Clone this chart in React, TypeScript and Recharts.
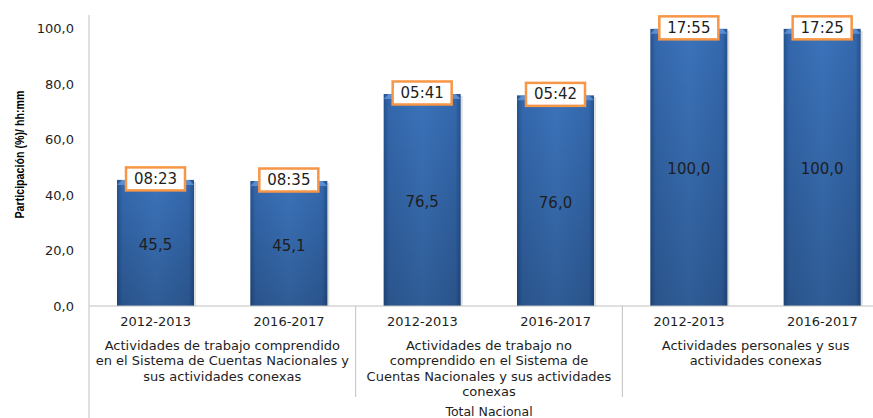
import React from 'react';
import { BarChart, Bar, XAxis, YAxis, LabelList, Label } from 'recharts';

const periods = ['2012-2013', '2016-2017', '2012-2013', '2016-2017', '2012-2013', '2016-2017'];
const groups = ['g1', 'g1', 'g2', 'g2', 'g3', 'g3'];
const groupLines: Record<string, string[]> = {
  g1: ['Actividades de trabajo comprendido', 'en el Sistema de Cuentas Nacionales y', 'sus actividades conexas'],
  g2: ['Actividades de trabajo no', 'comprendido en el Sistema de', 'Cuentas Nacionales y sus actividades', 'conexas'],
  g3: ['Actividades personales y sus', 'actividades conexas'],
};
const values = [45.5, 45.1, 76.5, 76.0, 100.0, 100.0];
const times = ['08:23', '08:35', '05:41', '05:42', '17:55', '17:25'];
const yTicks = [0, 20, 40, 60, 80, 100];
const totalLabel = 'Total Nacional';
const yTitle = 'Participación (%)/ hh:mm';

const data = periods.map((p, i) => ({
  period: p,
  group: groups[i],
  total: totalLabel,
  value: values[i],
  time: times[i],
}));

const FONT = '"DejaVu Sans", Verdana, sans-serif';
const TXT = '#1e1e1e';
const AXIS = '#c0c0c0';
const CHART_W = 892;
const CHART_H = 418;
const Y_W = 89;
const M_R = 3;
const PLOT_W = CHART_W - Y_W - M_R;

const fmt = (v: number) => v.toFixed(1).replace('.', ',');

const PeriodTick = (props: any) => {
  const { x, y, payload } = props;
  return (
    <text x={x} y={y + 15} textAnchor="middle" dominantBaseline="central" fontFamily={FONT} fontSize={13} fill={TXT}>
      {payload.value}
    </text>
  );
};

const GroupTick = (props: any) => {
  const { x, y, payload, index } = props;
  const bw = PLOT_W / 3;
  const lines = groupLines[payload.value] || [];
  return (
    <g>
      {lines.map((l, i) => (
        <text key={i} x={x} y={y + 13 + i * 15.6} textAnchor="middle" dominantBaseline="central" fontFamily={FONT} fontSize={13} fill={TXT}>
          {l}
        </text>
      ))}
      {index < 2 && <line x1={x + bw / 2} x2={x + bw / 2} y1={y - 26} y2={y + 65} stroke={AXIS} strokeWidth={1} />}
      {index === 0 && <line x1={x - bw / 2} x2={x - bw / 2} y1={y - 26} y2={y + 86} stroke={AXIS} strokeWidth={1} />}
    </g>
  );
};

const TotalTick = (props: any) => {
  const { x, y, payload } = props;
  return (
    <text x={x} y={y + 7} textAnchor="middle" dominantBaseline="central" fontFamily={FONT} fontSize={12.5} fill={TXT}>
      {payload.value}
    </text>
  );
};

const YTitle = (props: any) => {
  const vb = props.viewBox || { x: 0, y: 15, width: 89, height: 291 };
  const cx = 19;
  const cy = vb.y + vb.height / 2 - 6;
  return (
    <text
      x={cx}
      y={cy}
      transform={`rotate(-90 ${cx} ${cy})`}
      textAnchor="middle"
      dominantBaseline="central"
      fontFamily='"Liberation Sans Narrow", "Liberation Sans", Arial, sans-serif'
      fontWeight="bold"
      fontSize={13.5}
      textLength={128}
      lengthAdjust="spacingAndGlyphs"
      fill="#000"
    >
      {yTitle}
    </text>
  );
};

const BarShape = (props: any) => {
  const { x, y, width, height } = props;
  if (!height || height <= 0) return null;
  return (
    <g>
      <rect x={x + 2} y={y + 2} width={width} height={height - 2} fill="#7f7f7f" opacity={0.25} />
      <rect x={x} y={y} width={width} height={height} fill="url(#barH)" />
      <rect x={x} y={y} width={width} height={height} fill="url(#barV)" />
      <path d={`M${x},${y + 5} L${x + 5},${y} L${x + width - 5},${y} L${x + width},${y + 5} Z`} fill="#6d9ee0" opacity={0.7} />
    </g>
  );
};

const TimeLabel = (props: any) => {
  const { x, y, width, value } = props;
  const cx = x + width / 2;
  const bw = 59;
  const bh = 23;
  return (
    <g>
      <rect x={cx - bw / 2} y={y - bh / 2 - 1} width={bw} height={bh} fill="#fff" stroke="#f79646" strokeWidth={2.5} />
      <text x={cx} y={y - 1} textAnchor="middle" dominantBaseline="central" fontFamily={FONT} fontSize={15} fill={TXT}>
        {value}
      </text>
    </g>
  );
};

const ValueLabel = (props: any) => {
  const { x, y, width, height, value } = props;
  return (
    <text x={x + width / 2} y={y + height / 2 + 2} textAnchor="middle" dominantBaseline="central" fontFamily={FONT} fontSize={15} fill={TXT}>
      {fmt(value)}
    </text>
  );
};

export default function App() {
  return (
    <div style={{ position: 'absolute', left: 0, top: 0, width: 873, height: 418, overflow: 'hidden', background: '#fff' }}>
      <BarChart width={CHART_W} height={CHART_H} data={data} margin={{ top: 15, right: M_R, bottom: 0, left: 0 }} barSize={77}>
        <defs>
          <linearGradient id="barH" x1="0" y1="0" x2="1" y2="0">
            <stop offset="0%" stopColor="#24528f" />
            <stop offset="7%" stopColor="#3468ad" />
            <stop offset="50%" stopColor="#3b73bb" />
            <stop offset="93%" stopColor="#3468ad" />
            <stop offset="100%" stopColor="#24528f" />
          </linearGradient>
          <linearGradient id="barV" x1="0" y1="0" x2="0" y2="1">
            <stop offset="0%" stopColor="#000" stopOpacity={0} />
            <stop offset="100%" stopColor="#000" stopOpacity={0.2} />
          </linearGradient>
        </defs>
        <XAxis
          dataKey="period"
          tick={<PeriodTick />}
          tickLine={false}
          tickSize={0}
          tickMargin={0}
          height={26}
          axisLine={{ stroke: AXIS }}
          interval={0}
        />
        <XAxis
          xAxisId="group"
          dataKey="group"
          allowDuplicatedCategory={false}
          tick={<GroupTick />}
          tickLine={false}
          tickSize={0}
          tickMargin={0}
          height={72}
          axisLine={false}
          interval={0}
        />
        <XAxis
          xAxisId="total"
          dataKey="total"
          allowDuplicatedCategory={false}
          tick={<TotalTick />}
          tickLine={false}
          tickSize={0}
          tickMargin={0}
          height={14}
          axisLine={false}
          interval={0}
        />
        <YAxis
          width={Y_W}
          domain={[0, 105]}
          ticks={yTicks}
          tickFormatter={fmt}
          tickLine={false}
          tickSize={0}
          tickMargin={15}
          axisLine={{ stroke: AXIS }}
          tick={{ fontFamily: FONT, fontSize: 13, fill: TXT }}
        >
          <Label content={<YTitle />} />
        </YAxis>
        <Bar dataKey="value" shape={<BarShape />} isAnimationActive={false}>
          <LabelList dataKey="value" content={<ValueLabel />} />
          <LabelList dataKey="time" content={<TimeLabel />} />
        </Bar>
      </BarChart>
    </div>
  );
}
